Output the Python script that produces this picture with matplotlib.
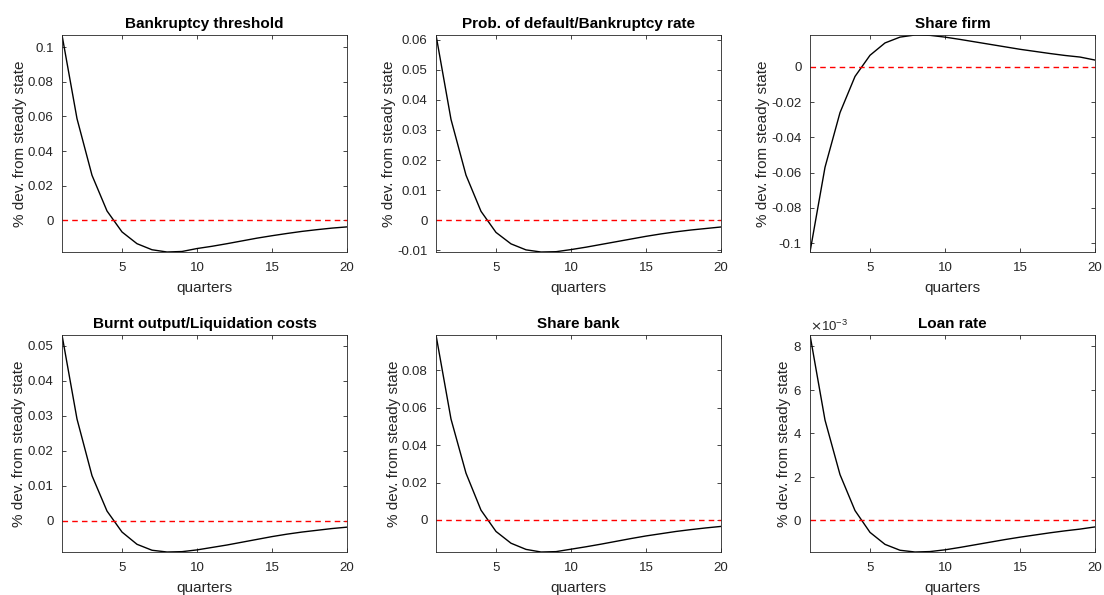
import numpy as np
import matplotlib
matplotlib.use("Agg")
import matplotlib.pyplot as plt
from matplotlib.ticker import FuncFormatter, ScalarFormatter

# Impulse responses (quarters 1..20)
quarters = np.arange(1, 21)

bankruptcy_threshold = [0.107, 0.0587, 0.026, 0.0054, -0.0067, -0.0135, -0.017, -0.0183, -0.018, -0.0163,
                        -0.015, -0.0135, -0.0119, -0.0103, -0.0089, -0.0076, -0.0064, -0.0054, -0.0045, -0.0038]
prob_default = [0.0615, 0.0335, 0.015, 0.003, -0.004, -0.0078, -0.0098, -0.0105, -0.0104, -0.0097,
                -0.0089, -0.008, -0.0071, -0.0062, -0.0053, -0.0045, -0.0038, -0.0032, -0.0027, -0.0022]
share_firm = [-0.105, -0.057, -0.026, -0.0055, 0.0065, 0.0135, 0.0168, 0.018, 0.0178, 0.0168,
              0.0155, 0.0141, 0.0127, 0.0113, 0.0099, 0.0087, 0.0075, 0.0064, 0.0055, 0.0038]
burnt_output = [0.053, 0.029, 0.0128, 0.0027, -0.0033, -0.0068, -0.0085, -0.009, -0.0089, -0.0084,
                -0.0077, -0.007, -0.0062, -0.0054, -0.0046, -0.0039, -0.0033, -0.0028, -0.0023, -0.0019]
share_bank = [0.099, 0.054, 0.025, 0.0052, -0.0062, -0.0125, -0.0158, -0.0172, -0.017, -0.0157,
              -0.0144, -0.013, -0.0115, -0.01, -0.0086, -0.0074, -0.0062, -0.0052, -0.0043, -0.0035]
loan_rate = [0.0085, 0.0046, 0.0021, 0.00045, -0.00055, -0.0011, -0.00137, -0.00145, -0.00143, -0.00135,
             -0.00124, -0.00112, -0.001, -0.00088, -0.00077, -0.00067, -0.00057, -0.00048, -0.0004, -0.0003]

titles = ["Bankruptcy threshold", "Prob. of default/Bankruptcy rate", "Share firm",
          "Burnt output/Liquidation costs", "Share bank", "Loan rate"]
series = [bankruptcy_threshold, prob_default, share_firm, burnt_output, share_bank, loan_rate]
yticks = [[0, 0.02, 0.04, 0.06, 0.08, 0.1],
          [-0.01, 0, 0.01, 0.02, 0.03, 0.04, 0.05, 0.06],
          [-0.1, -0.08, -0.06, -0.04, -0.02, 0],
          [0, 0.01, 0.02, 0.03, 0.04, 0.05],
          [0, 0.02, 0.04, 0.06, 0.08],
          [0, 0.002, 0.004, 0.006, 0.008]]

plt.rcParams['font.family'] = ['Liberation Sans', 'DejaVu Sans']
grey = (0.15, 0.15, 0.15)

fig = plt.figure(figsize=(11.04, 5.95), dpi=100)
W, H = 1104.0, 595.0
lefts = [62, 436, 810]
tops = [35, 335]
aw, ah = 285, 217

for i, (title, y) in enumerate(zip(titles, series)):
    r, c = divmod(i, 3)
    ax = fig.add_axes([lefts[c] / W, 1 - (tops[r] + ah) / H, aw / W, ah / H])
    ax.plot(quarters, y, color='black', lw=1.0)
    ax.axhline(0, color='red', ls=(0, (4, 3)), lw=1.0)
    ax.set_xlim(1, 20)
    ax.set_ylim(min(y), max(y))
    ax.set_xticks([5, 10, 15, 20])
    ax.set_yticks(yticks[i])
    if title == "Loan rate":
        fmt = ScalarFormatter(useMathText=True)
        fmt.set_powerlimits((-2, 2))
        ax.yaxis.set_major_formatter(fmt)
        ax.yaxis.get_offset_text().set_fontsize(9.5)
        ax.yaxis.get_offset_text().set_color(grey)
    else:
        ax.yaxis.set_major_formatter(FuncFormatter(lambda v, p: "%g" % round(v, 6)))
    ax.tick_params(direction='in', top=True, right=True, labelsize=9.5, colors=grey,
                   length=3, width=0.6)
    ax.tick_params(axis='x', pad=7.5)
    ax.tick_params(axis='y', pad=6)
    for s in ax.spines.values():
        s.set_color(grey)
        s.set_linewidth(0.6)
    ax.set_title(title, fontsize=11, fontweight='bold', pad=5)
    ax.set_xlabel("quarters", fontsize=11, color=grey, labelpad=5)
    ax.set_ylabel("% dev. from steady state", fontsize=11, color=grey, labelpad=1)

fig.savefig("out.png", dpi=100)
